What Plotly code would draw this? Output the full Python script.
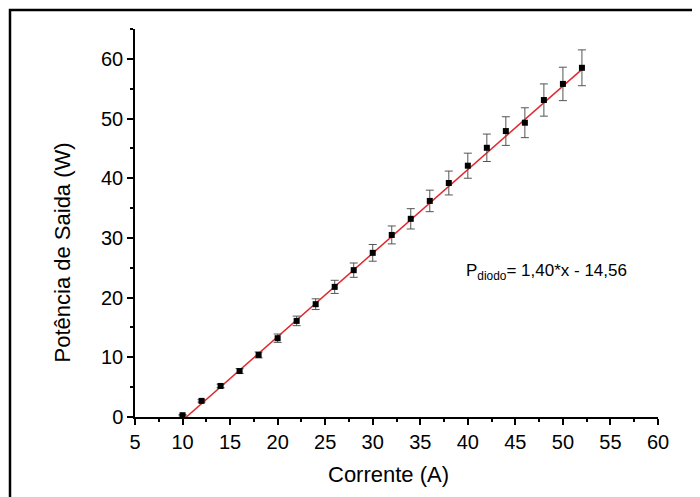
import plotly.graph_objects as go

corrente = [10, 12, 14, 16, 18, 20, 22, 24, 26, 28, 30, 32, 34, 36, 38, 40, 42, 44, 46, 48, 50, 52]
potencia = [0.3, 2.7, 5.2, 7.7, 10.4, 13.2, 16.1, 18.9, 21.8, 24.6, 27.5, 30.5, 33.2, 36.2, 39.2, 42.1, 45.1, 47.9, 49.3, 53.1, 55.8, 58.5]
erro = [0.1, 0.2, 0.3, 0.4, 0.5, 0.7, 0.8, 0.9, 1.1, 1.2, 1.4, 1.5, 1.7, 1.8, 2.0, 2.1, 2.3, 2.4, 2.5, 2.7, 2.8, 3.0]

slope = 1.40
intercept = -14.56
fit_x = [-intercept / slope, 52]
fit_y = [slope * v + intercept for v in fit_x]

FONT = "Liberation Sans, Arial, sans-serif"

fig = go.Figure()
fig.add_trace(go.Scatter(
    x=fit_x, y=fit_y, mode="lines",
    line=dict(color="#e0282d", width=1.5), showlegend=False, cliponaxis=False))
fig.add_trace(go.Scatter(
    x=corrente, y=potencia, mode="markers",
    marker=dict(symbol="square", size=6, color="black"),
    error_y=dict(type="data", array=erro, visible=True, color="#555555", thickness=1, width=4),
    showlegend=False, cliponaxis=False))

fig.add_annotation(
    x=39.6, y=24.3, xref="x", yref="y", xanchor="left", yanchor="middle",
    text="P<sub>diodo</sub>= 1,40*x - 14,56", showarrow=False,
    font=dict(family=FONT, size=17, color="black"))

# axis titles
fig.add_annotation(
    x=-0.1396, y=0.424, xref="paper", yref="paper", xanchor="center", yanchor="middle",
    text="Potência de Saida (W)", textangle=-90, showarrow=False,
    font=dict(family=FONT, size=22, color="black"))
fig.add_annotation(
    x=0.484, y=-0.149, xref="paper", yref="paper", xanchor="center", yanchor="middle",
    text="Corrente (A)", showarrow=False,
    font=dict(family=FONT, size=22, color="black"))

# outer frame
fig.add_shape(type="rect", xref="paper", yref="paper",
              x0=-0.239, x1=1.3, y0=-0.4, y1=1.049,
              line=dict(color="black", width=2.5), layer="above")

fig.update_layout(
    width=700, height=497,
    margin=dict(l=127, r=50, t=21, b=88),
    paper_bgcolor="white", plot_bgcolor="white",
    font=dict(family=FONT, color="black"),
    xaxis=dict(
        range=[5, 60], tickmode="linear", tick0=5, dtick=5,
        showline=True, linecolor="black", linewidth=1.5, mirror=False,
        ticks="outside", ticklen=6, tickwidth=1.5, tickcolor="black",
        minor=dict(ticks="outside", ticklen=3, tickwidth=1.5, tickcolor="black", dtick=2.5, tick0=5),
        showgrid=False, zeroline=False,
        tickfont=dict(size=20),
    ),
    yaxis=dict(
        range=[0, 65], tickmode="linear", tick0=0, dtick=10,
        showline=True, linecolor="black", linewidth=1.5, mirror=False,
        ticks="outside", ticklen=6, tickwidth=1.5, tickcolor="black",
        minor=dict(ticks="outside", ticklen=3, tickwidth=1.5, tickcolor="black", dtick=5, tick0=0),
        showgrid=False, zeroline=False,
        tickfont=dict(size=20),
    ),
)

fig.write_html("out.html")
